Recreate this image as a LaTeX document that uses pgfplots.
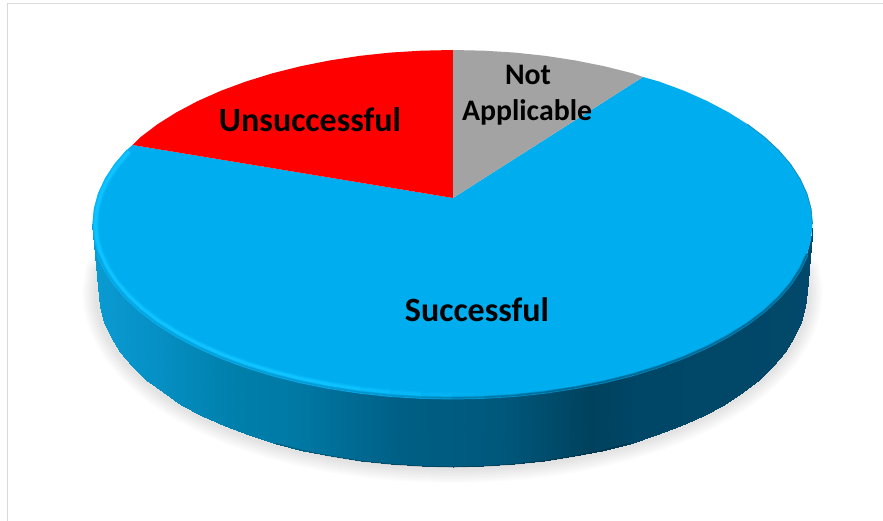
\documentclass[border=0pt]{standalone}
\usepackage{pgfplots}
\usepackage{pgfplotstable}
\usepackage{fontspec}
\pgfplotsset{compat=1.18}
\setmainfont{Carlito}

\definecolor{pieblue}{RGB}{0,174,239}
\definecolor{piered}{RGB}{255,0,0}
\definecolor{piegray}{RGB}{163,163,163}
\definecolor{framegray}{RGB}{217,217,217}

% all values are pixel positions
\pgfplotstableread{
x y
453 198
643 77
659.0 81.5
683.9 90.7
707.1 101.0
728.3 112.2
747.4 124.2
764.3 137
778.8 150.5
790.8 164.5
800.2 179.0
807.0 193.8
811.1 208.8
812.5 224
811.1 239.2
807.0 254.2
800.2 269.0
790.8 283.5
778.8 297.5
764.3 311.0
747.4 323.8
728.3 335.8
707.1 347.0
683.9 357.3
659.0 366.5
632.5 374.7
604.6 381.7
575.6 387.5
545.7 392.1
515.0 395.4
483.9 397.3
452.5 398
421.1 397.3
390.0 395.4
359.3 392.1
329.4 387.5
300.4 381.7
272.5 374.7
246.0 366.5
221.1 357.3
197.9 347.0
176.7 335.8
157.6 323.8
140.7 311.0
126.2 297.5
114.2 283.5
104.8 269.0
98.0 254.2
93.9 239.2
92.5 224
93.9 208.8
98.0 193.8
104.8 179.0
114.2 164.5
126.2 150.5
132.5 145
}\successful

\pgfplotstableread{
x y
453 198
132.5 145
140.7 137
157.6 124.2
176.7 112.2
197.9 101.0
221.1 90.7
246.0 81.5
272.5 73.3
300.4 66.3
329.4 60.5
359.3 55.9
390.0 52.6
421.1 50.7
453 50
}\unsuccessful

\pgfplotstableread{
x y
453 198
453 50
483.9 50.7
515.0 52.6
545.7 55.9
575.6 60.5
604.6 66.3
632.5 73.3
643 77
}\notapplicable

% side wall: upper edge, then lower edge
\pgfplotstableread{
x y
812.5 224
811.1 239.2
807.0 254.2
800.2 269.0
790.8 283.5
778.8 297.5
764.3 311.0
747.4 323.8
728.3 335.8
707.1 347.0
683.9 357.3
659.0 366.5
632.5 374.7
604.6 381.7
575.6 387.5
545.7 392.1
515.0 395.4
483.9 397.3
452.5 398
421.1 397.3
390.0 395.4
359.3 392.1
329.4 387.5
300.4 381.7
272.5 374.7
246.0 366.5
221.1 357.3
197.9 347.0
176.7 335.8
157.6 323.8
140.7 311.0
126.2 297.5
114.2 283.5
104.8 269.0
98.0 254.2
93.9 239.2
92.5 224
806.5 292
805.2 307.3
801.1 322.4
794.4 337.3
785.2 351.9
773.3 366
759.1 379.5
742.5 392.4
723.7 404.5
702.8 415.7
680.1 426.1
655.6 435.4
629.5 443.6
602.1 450.6
573.6 456.4
544.1 461
514 464.3
483.4 466.3
452.5 467
421.6 466.3
391 464.3
360.9 461
331.4 456.4
302.9 450.6
275.5 443.6
249.4 435.4
224.9 426.1
202.2 415.7
181.3 404.5
162.5 392.4
145.9 379.5
131.7 366
119.8 351.9
110.6 337.3
103.9 322.4
99.8 307.3
98.5 292
}\wall

% lower edge alone, for the soft shadow
\pgfplotstableread{
x y
804 272
806.5 292
805.2 307.3
801.1 322.4
794.4 337.3
785.2 351.9
773.3 366
759.1 379.5
742.5 392.4
723.7 404.5
702.8 415.7
680.1 426.1
655.6 435.4
629.5 443.6
602.1 450.6
573.6 456.4
544.1 461
514 464.3
483.4 466.3
452.5 467
421.6 466.3
391 464.3
360.9 461
331.4 456.4
302.9 450.6
275.5 443.6
249.4 435.4
224.9 426.1
202.2 415.7
181.3 404.5
162.5 392.4
145.9 379.5
131.7 366
119.8 351.9
110.6 337.3
103.9 322.4
99.8 307.3
98.5 292
101 272
}\shadowedge

% bevel just inside the rim of the top
\pgfplotstableread{
x y
129 151.7
117 165.5
107.7 179.7
100.9 194.3
96.9 209.1
95.5 224
96.9 238.9
100.9 253.7
107.7 268.3
117 282.5
129 296.3
143.3 309.5
160.1 322.1
179 333.9
200.1 344.9
223 355
247.7 364.1
274 372.1
301.6 379
330.4 384.7
360.1 389.2
390.5 392.4
421.4 394.4
452.5 395
483.6 394.4
514.5 392.4
544.9 389.2
574.6 384.7
603.4 379
631 372.1
657.3 364.1
682 355
704.9 344.9
726 333.9
744.9 322.1
761.7 309.5
776 296.3
788 282.5
797.3 268.3
804.1 253.7
808.1 238.9
}\bevel

% true rim of the top, front half, stopping short of the sides
\pgfplotstableread{
x y
98.0 254.2
104.8 269.0
114.2 283.5
126.2 297.5
140.7 311.0
157.6 323.8
176.7 335.8
197.9 347.0
221.1 357.3
246.0 366.5
272.5 374.7
300.4 381.7
329.4 387.5
359.3 392.1
390.0 395.4
421.1 397.3
452.5 398
483.9 397.3
515.0 395.4
545.7 392.1
575.6 387.5
604.6 381.7
632.5 374.7
659.0 366.5
683.9 357.3
707.1 347.0
728.3 335.8
747.4 323.8
764.3 311.0
778.8 297.5
790.8 283.5
800.2 269.0
807.0 254.2
}\rim

\begin{document}
\begin{tikzpicture}
\begin{axis}[
    scale only axis,
    width=883pt,
    height=521pt,
    xmin=0, xmax=883,
    ymin=0, ymax=521,
    y dir=reverse,
    hide axis,
    clip=true,
    colormap={wall}{rgb255(0pt)=(10,155,211); rgb255(57pt)=(6,145,198);
        rgb255(137pt)=(0,128,172); rgb255(207pt)=(0,120,164);
        rgb255(307pt)=(0,95,133); rgb255(407pt)=(0,88,124);
        rgb255(497pt)=(0,66,94); rgb255(547pt)=(0,70,102);
        rgb255(720pt)=(2,72,106)},
    colormap={bevelwide}{rgb255(0pt)=(6,183,247); rgb255(237pt)=(6,183,247);
        rgb255(380pt)=(0,174,239); rgb255(720pt)=(0,174,239)},
    colormap={bevelthin}{rgb255(0pt)=(14,195,255); rgb255(237pt)=(14,195,255);
        rgb255(380pt)=(0,174,239); rgb255(720pt)=(0,174,239)},
    colormap={rimwide}{rgb255(0pt)=(8,180,242); rgb255(300pt)=(6,170,232);
        rgb255(400pt)=(0,150,208); rgb255(470pt)=(0,140,195); rgb255(720pt)=(0,140,195)},
    colormap={rimthin}{rgb255(0pt)=(6,168,228); rgb255(300pt)=(4,150,205);
        rgb255(400pt)=(0,120,168); rgb255(470pt)=(0,105,150); rgb255(720pt)=(0,105,150)},
]
% frame of the picture
\addplot[draw=none, fill=white] coordinates {(0,0) (883,0) (883,521) (0,521)};
\addplot[framegray, line width=1pt] coordinates {(7,521) (7,4) (883,4)};

% shadow
\addplot[draw=black, opacity=.016, line width=32pt, line cap=round, line join=round] table {\shadowedge};
\addplot[draw=black, opacity=.016, line width=28pt, line cap=round, line join=round] table {\shadowedge};
\addplot[draw=black, opacity=.016, line width=24pt, line cap=round, line join=round] table {\shadowedge};
\addplot[draw=black, opacity=.016, line width=20pt, line cap=round, line join=round] table {\shadowedge};
\addplot[draw=black, opacity=.016, line width=16pt, line cap=round, line join=round] table {\shadowedge};
\addplot[draw=black, opacity=.016, line width=12pt, line cap=round, line join=round] table {\shadowedge};
\addplot[draw=black, opacity=.016, line width=8pt, line cap=round, line join=round] table {\shadowedge};

% side wall
\addplot[surf, shader=interp, mesh/rows=2, colormap name=wall,
    point meta=x, point meta min=93, point meta max=813] table {\wall};
% dark seam along the foot of the wall
\addplot[draw=black, opacity=.22, line width=1.2pt] coordinates {
    (275.5,443.6) (302.9,450.6) (331.4,456.4) (360.9,461) (391,464.3)
    (421.6,466.3) (452.5,467) (483.4,466.3) (514,464.3) (544.1,461)
    (573.6,456.4) (602.1,450.6) (629.5,443.6)};

% top of the pie
\addplot[fill=pieblue, draw=none] table {\successful};
\addplot[fill=piered, draw=none] table {\unsuccessful};
\addplot[fill=piegray, draw=none] table {\notapplicable};

% bevel, soft: wide pale band, bright core, then the rim itself
\addplot[mesh, colormap name=bevelwide, line width=6pt,
    point meta=x, point meta min=93, point meta max=813] table {\bevel};
\addplot[mesh, colormap name=bevelthin, line width=3pt,
    point meta=x, point meta min=93, point meta max=813] table {\bevel};
\addplot[mesh, colormap name=rimwide, line width=3pt,
    point meta=x, point meta min=93, point meta max=813] table {\rim};
\addplot[mesh, colormap name=rimthin, line width=1.5pt,
    point meta=x, point meta min=93, point meta max=813] table {\rim};
% thin dark line on the upper right of the rim
\addplot[draw={rgb,255:red,20;green,140;blue,190}, line width=.8pt] coordinates {
    (747.4,124.2) (764.3,137) (778.8,150.5) (790.8,164.5) (800.2,179.0)
    (807.0,193.8) (811.1,208.8) (812.5,224)};

\node[font=\bfseries\fontsize{34}{34}\selectfont] at (axis cs:310,120) {Unsuccessful};
\node[font=\bfseries\fontsize{34}{34}\selectfont] at (axis cs:477,310) {Successful};
\node[font=\bfseries\fontsize{29.8}{29.8}\selectfont] at (axis cs:528,75) {Not};
\node[font=\bfseries\fontsize{29.8}{29.8}\selectfont] at (axis cs:527,112) {Applicable};
\end{axis}
\end{tikzpicture}
\end{document}
